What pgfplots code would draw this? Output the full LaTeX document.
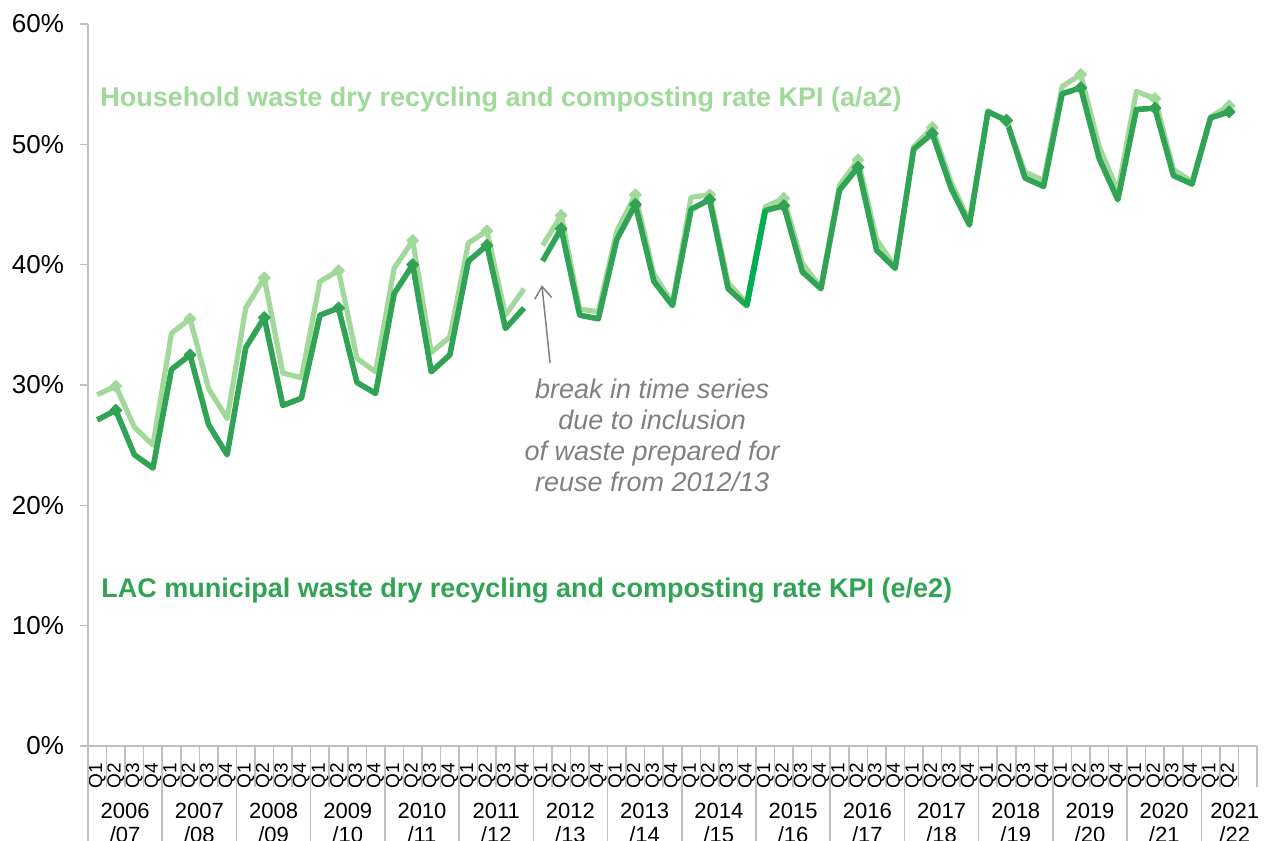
\documentclass[border=0pt]{standalone}
\usepackage{pgfplots}
\pgfplotsset{compat=1.18}
\usepackage{fontspec}
\setmainfont{Liberation Sans}
\usetikzlibrary{arrows.meta}
\definecolor{lightg}{HTML}{A1D99B}
\definecolor{darkg}{HTML}{31A354}
\definecolor{brightg}{HTML}{00B050}
\definecolor{axgray}{HTML}{BFBFBF}
\definecolor{notegray}{HTML}{808080}
\newcommand{\yf}{\fontsize{11}{12}\selectfont}
\begin{document}
\begin{tikzpicture}
\useasboundingbox (-44pt,-47.5pt) rectangle (591.5pt,373pt);
\begin{axis}[at={(0,0)}, anchor=south west, scale only axis,
  width=584.5pt, height=361pt,
  xmin=-0.5, xmax=62.5, ymin=0, ymax=60,
  clip=false,
  axis x line*=bottom, axis y line*=left,
  axis line style={-, draw=axgray, line width=0.8pt},
  tick align=outside, major tick length=4pt, minor tick length=20.5pt,
  ytick={0,10,...,60},
  yticklabel={\pgfmathprintnumber{\tick}\%},
  /pgf/number format/assume math mode=true,
  yticklabel style={font=\fontsize{13}{15}\selectfont, black},
  yticklabel shift=4.5pt,
  y tick style={draw=axgray, line width=0.8pt},
  xtick={0,...,61},
  xticklabels={Q1,Q2,Q3,Q4,Q1,Q2,Q3,Q4,Q1,Q2,Q3,Q4,Q1,Q2,Q3,Q4,Q1,Q2,Q3,Q4,Q1,Q2,Q3,Q4,Q1,Q2,Q3,Q4,Q1,Q2,Q3,Q4,Q1,Q2,Q3,Q4,Q1,Q2,Q3,Q4,Q1,Q2,Q3,Q4,Q1,Q2,Q3,Q4,Q1,Q2,Q3,Q4,Q1,Q2,Q3,Q4,Q1,Q2,Q3,Q4,Q1,Q2},
  xticklabel style={rotate=90, anchor=east, inner xsep=4.5pt, font=\fontsize{9.5}{11}\selectfont, black},
  major x tick style={draw=none},
  minor xtick={-0.5,0.5,...,62.5},
  minor x tick style={draw=axgray, line width=0.8pt},
  extra x ticks={-0.5,3.5,...,59.5},
  extra x tick labels={},
  extra x tick style={major tick length=47.5pt, major x tick style={draw=axgray, line width=0.8pt}},
]
% Household (a/a2)
\addplot[lightg, line width=2.6pt, line join=round, mark=square*, mark repeat=4, mark phase=2, mark size=2.1pt, mark options={rotate=45, line width=0.5pt}]
coordinates {(0,29.2)(1,29.9)(2,26.5)(3,25.0)(4,34.3)(5,35.5)(6,29.7)(7,27.2)(8,36.4)(9,38.9)(10,31.0)(11,30.6)(12,38.6)(13,39.5)(14,32.2)(15,31.1)(16,39.7)(17,42.0)(18,32.7)(19,34.0)(20,41.8)(21,42.8)(22,35.8)(23,38.0)};
\addplot[lightg, line width=2.6pt, line join=round, mark=square*, mark repeat=4, mark phase=2, mark size=2.1pt, mark options={rotate=45, line width=0.5pt}]
coordinates {(24,41.6)(25,44.1)(26,36.3)(27,36.1)(28,42.8)(29,45.8)(30,39.2)(31,36.8)(32,45.6)(33,45.8)(34,38.5)(35,36.8)(36,44.8)(37,45.5)(38,40.1)(39,38.1)(40,46.6)(41,48.7)(42,42.1)(43,39.8)(44,49.8)(45,51.4)(46,46.9)(47,43.6)(48,52.8)(49,51.9)(50,47.7)(51,47.0)(52,54.8)(53,55.8)(54,49.8)(55,46.1)(56,54.4)(57,53.8)(58,47.9)(59,46.9)(60,52.3)(61,53.2)};
% LAC municipal (e/e2)
\addplot[darkg, line width=2.8pt, line join=round, mark=square*, mark repeat=4, mark phase=2, mark size=2.1pt, mark options={rotate=45, line width=0.5pt}]
coordinates {(0,27.1)(1,27.9)(2,24.2)(3,23.1)(4,31.3)(5,32.5)(6,26.7)(7,24.2)(8,33.1)(9,35.6)(10,28.3)(11,28.9)(12,35.8)(13,36.4)(14,30.2)(15,29.3)(16,37.6)(17,40.0)(18,31.1)(19,32.5)(20,40.3)(21,41.6)(22,34.7)(23,36.4)};
\addplot[darkg, line width=2.8pt, line join=round, mark=square*, mark repeat=4, mark phase=2, mark size=2.1pt, mark options={rotate=45, line width=0.5pt}]
coordinates {(24,40.3)(25,43.0)(26,35.8)(27,35.5)(28,42.1)(29,45.0)(30,38.6)(31,36.6)(32,44.6)(33,45.4)(34,38.0)(35,36.6)(36,44.5)(37,44.9)(38,39.4)(39,38.0)(40,46.2)(41,48.1)(42,41.2)(43,39.7)(44,49.6)(45,50.9)(46,46.4)(47,43.3)(48,52.7)(49,52.0)(50,47.2)(51,46.5)(52,54.2)(53,54.7)(54,48.8)(55,45.4)(56,52.9)(57,53.0)(58,47.4)(59,46.7)(60,52.2)(61,52.7)};
\addplot[brightg, line width=2.8pt, line join=round] coordinates {(35,36.6)(36,44.5)};

% series labels
\node[anchor=west, inner sep=0pt, text=lightg, font=\bfseries\fontsize{13.5}{15}\selectfont] at (axis cs:0.15,53.7) {Household waste dry recycling and composting rate KPI (a/a2)};
\node[anchor=west, inner sep=0pt, text=darkg, font=\bfseries\fontsize{13.5}{15}\selectfont] at (axis cs:0.2,12.88) {LAC municipal waste dry recycling and composting rate KPI (e/e2)};

% annotation
\draw[notegray, line width=0.75pt, -{Straight Barb[length=6pt, width=8.5pt]}] (axis cs:24.4,31.85) -- (axis cs:23.96,38.3);
\node[align=center, text=notegray, font=\itshape\fontsize{13.5}{15.5}\selectfont] at (axis cs:29.9,25.85) {break in time series\\due to inclusion\\of waste prepared for\\reuse from 2012/13};

% year labels
\node[font=\yf, align=center] at (axis cs:1.5,-6.4) {2006\\/07};
\node[font=\yf, align=center] at (axis cs:5.5,-6.4) {2007\\/08};
\node[font=\yf, align=center] at (axis cs:9.5,-6.4) {2008\\/09};
\node[font=\yf, align=center] at (axis cs:13.5,-6.4) {2009\\/10};
\node[font=\yf, align=center] at (axis cs:17.5,-6.4) {2010\\/11};
\node[font=\yf, align=center] at (axis cs:21.5,-6.4) {2011\\/12};
\node[font=\yf, align=center] at (axis cs:25.5,-6.4) {2012\\/13};
\node[font=\yf, align=center] at (axis cs:29.5,-6.4) {2013\\/14};
\node[font=\yf, align=center] at (axis cs:33.5,-6.4) {2014\\/15};
\node[font=\yf, align=center] at (axis cs:37.5,-6.4) {2015\\/16};
\node[font=\yf, align=center] at (axis cs:41.5,-6.4) {2016\\/17};
\node[font=\yf, align=center] at (axis cs:45.5,-6.4) {2017\\/18};
\node[font=\yf, align=center] at (axis cs:49.5,-6.4) {2018\\/19};
\node[font=\yf, align=center] at (axis cs:53.5,-6.4) {2019\\/20};
\node[font=\yf, align=center] at (axis cs:57.5,-6.4) {2020\\/21};
\node[font=\yf, align=center] at (axis cs:61.3,-6.4) {2021\\/22};
\end{axis}
\end{tikzpicture}
\end{document}
